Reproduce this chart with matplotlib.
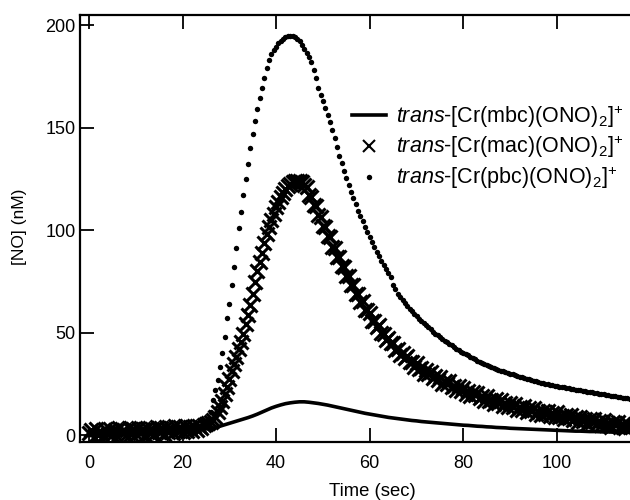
import numpy as np
import matplotlib
matplotlib.use("Agg")
import matplotlib.pyplot as plt

plt.rcParams['font.family'] = ['Liberation Sans', 'DejaVu Sans']
plt.rcParams['mathtext.fontset'] = 'custom'
plt.rcParams['mathtext.rm'] = 'Liberation Sans'
plt.rcParams['mathtext.it'] = 'Liberation Sans:italic'

# ---------------- data ----------------
t_step_markers = 0.5   # s between marker samples
t_step_line = 1.0      # s between line samples

# trans-[Cr(pbc)(ONO)2]+ , filled dots, every 0.5 s from 0 s
no_pbc = [
    0.5, 2.2, -0.6, 2.8, 0.3, 2.1, -0.2, 2.5, 1.3, 3.0,
    0.4, 2.6, -0.1, 3.1, 0.8, 2.4, 0.2, 3.2, 1.0, 2.6,
    0.6, 3.4, 1.2, 3.0, 0.7, 3.5, 1.5, 3.1, 0.9, 3.7,
    1.6, 3.3, 1.0, 3.9, 1.8, 3.4, 1.4, 4.1, 2.0, 3.8,
    1.9, 4.3, 2.5, 4.0, 2.2, 4.5, 3.0, 4.6, 3.5, 5.2,
    6.0, 8.0, 11.0, 17.0, 22.0, 27.0, 33.0, 40.0, 48.0, 57.0,
    64.0, 73.0, 82.0, 91.0, 101.0, 109.0, 117.0, 125.0, 132.0, 140.0,
    147.0, 153.0, 159.0, 164.5, 169.5, 174.0, 179.0, 183.0, 186.0, 188.0,
    189.5, 191.0, 192.0, 193.0, 194.0, 194.5, 194.5, 194.5, 194.0, 193.0,
    192.0, 190.5, 188.5, 186.5, 184.5, 182.0, 178.0, 174.0, 169.5, 166.0,
    163.0, 159.5, 156.0, 152.5, 149.0, 145.0, 140.5, 136.0, 132.5, 129.0,
    125.5, 122.0, 118.5, 115.5, 112.5, 109.5, 107.0, 104.5, 101.5, 99.0,
    96.5, 94.0, 91.5, 89.5, 87.5, 85.0, 83.0, 81.0, 79.0, 77.0,
    73.0, 71.0, 69.0, 67.5, 66.0, 64.5, 63.0, 61.7, 60.4, 59.2,
    58.0, 56.8, 55.7, 54.6, 53.5, 52.5, 51.5, 50.5, 49.5, 48.6,
    47.7, 46.8, 46.0, 45.2, 44.5, 43.7, 43.0, 42.2, 41.5, 40.7,
    40.0, 39.4, 38.8, 38.1, 37.5, 36.9, 36.3, 35.6, 35.0, 34.5,
    34.0, 33.5, 33.0, 32.6, 32.2, 31.8, 31.4, 31.0, 30.6, 30.3,
    30.0, 29.6, 29.2, 28.9, 28.5, 28.1, 27.8, 27.4, 27.1, 26.8,
    26.5, 26.2, 25.9, 25.6, 25.3, 25.0, 24.8, 24.5, 24.3, 24.0,
    23.8, 23.6, 23.4, 23.2, 23.0, 22.8, 22.6, 22.4, 22.2, 22.0,
    21.8, 21.6, 21.4, 21.2, 21.0, 20.8, 20.6, 20.4, 20.2, 20.0,
    19.8, 19.6, 19.4, 19.2, 19.0, 18.8, 18.6, 18.5, 18.3, 18.1,
    17.9, 17.8,
]

# trans-[Cr(mac)(ONO)2]+ , x markers, every 0.5 s from 0 s
no_mac = [
    0.8, 2.5, -0.8, 2.9, 0.2, 1.6, -0.5, 2.7, 0.5, 3.0,
    0.0, 2.6, -0.6, 3.2, 0.9, 2.4, -0.2, 3.3, 0.6, 2.8,
    0.3, 3.5, 1.0, 2.9, -0.1, 3.6, 1.2, 3.1, 0.4, 3.8,
    1.4, 3.4, 0.7, 4.0, 1.6, 3.6, 1.0, 4.2, 1.8, 3.9,
    1.3, 4.4, 2.2, 4.1, 1.8, 4.6, 2.6, 4.5, 3.2, 5.0,
    5.3, 5.8, 6.5, 7.5, 9.0, 11.0, 13.5, 16.5, 20.0, 23.5,
    27.5, 31.0, 34.5, 38.0, 41.8, 45.5, 49.5, 54.0, 58.5, 63.5,
    69.0, 74.5, 80.0, 84.5, 89.0, 93.5, 98.0, 101.5, 105.0, 108.0,
    111.0, 113.5, 116.0, 118.0, 120.0, 121.5, 122.5, 123.3, 123.8, 124.0,
    123.8, 123.2, 122.0, 121.0, 117.1, 116.2, 112.1, 111.6, 107.2, 106.3,
    101.8, 101.4, 97.1, 96.6, 91.9, 91.4, 87.0, 86.8, 82.3, 82.0,
    77.6, 77.5, 73.2, 73.3, 69.0, 68.9, 64.8, 65.2, 61.0, 61.2,
    59.5, 55.6, 55.5, 52.9, 53.5, 49.6, 49.2, 46.2, 47.1, 44.7,
    45.0, 41.6, 42.0, 38.8, 40.1, 37.8, 38.6, 35.4, 35.6, 33.3,
    35.1, 32.3, 32.7, 29.9, 31.8, 29.9, 30.9, 27.6, 28.6, 26.8,
    28.1, 25.1, 26.5, 24.8, 26.4, 23.3, 24.1, 21.9, 23.7, 21.7,
    23.0, 20.2, 21.3, 18.9, 21.0, 19.3, 20.6, 17.9, 19.0, 16.8,
    18.9, 16.5, 17.1, 15.1, 17.4, 15.6, 17.3, 14.4, 15.6, 13.5,
    15.4, 13.6, 15.3, 12.4, 13.6, 12.1, 14.3, 11.1, 13.0, 11.5,
    13.0, 10.4, 11.7, 9.6, 11.9, 10.4, 11.7, 9.4, 10.6, 8.6,
    11.0, 8.7, 9.5, 7.6, 9.9, 8.1, 9.9, 7.2, 8.6, 6.5,
    8.8, 6.9, 7.7, 5.6, 7.9, 6.4, 8.0, 5.3, 6.9, 4.9,
    7.2, 5.0, 6.1, 4.1, 6.4, 4.8, 6.6, 4.0, 5.5, 3.5,
    5.9, 3.9,
]

# trans-[Cr(mbc)(ONO)2]+ , solid line, every 1 s from 0 s
no_mbc = [
    0.5, 1.0, 0.3, 1.2, 0.8, 1.4, 1.0, 1.6, 1.2, 1.8,
    1.5, 2.0, 1.7, 2.2, 1.9, 2.3, 2.1, 2.5, 2.3, 2.6,
    2.5, 2.8, 2.7, 3.0, 2.9, 3.0, 3.0, 3.6, 4.3, 5.0,
    5.7, 6.4, 7.1, 7.8, 8.5, 9.3, 10.2, 11.2, 12.2, 13.2,
    14.0, 14.7, 15.3, 15.7, 16.0, 16.2, 16.2, 16.0, 15.7, 15.4,
    15.0, 14.6, 14.1, 13.6, 13.1, 12.6, 12.1, 11.6, 11.1, 10.6,
    10.2, 9.8, 9.4, 9.0, 8.6, 8.3, 8.0, 7.7, 7.4, 7.1,
    6.9, 6.6, 6.4, 6.2, 6.0, 5.8, 5.6, 5.4, 5.2, 5.0,
    4.8, 4.7, 4.5, 4.3, 4.2, 4.0, 3.9, 3.7, 3.6, 3.5,
    3.3, 3.2, 3.1, 3.0, 2.9, 2.8, 2.7, 2.6, 2.5, 2.4,
    2.3, 2.2, 2.1, 2.0, 1.9, 1.9, 1.8, 1.7, 1.7, 1.6,
    1.5, 1.5, 1.4, 1.4, 1.3, 1.3,
]

labels = [
    r"$\mathit{trans}$-[Cr(mbc)(ONO)$_2$]$^{+}$",
    r"$\mathit{trans}$-[Cr(mac)(ONO)$_2$]$^{+}$",
    r"$\mathit{trans}$-[Cr(pbc)(ONO)$_2$]$^{+}$",
]
x_ticks = [0, 20, 40, 60, 80, 100]
y_ticks = [0, 50, 100, 150, 200]
x_label = "Time (sec)"
y_label = "[NO] (nM)"

t_pbc = t_step_markers * np.arange(len(no_pbc))
t_mac = t_step_markers * np.arange(len(no_mac))
t_mbc = t_step_line * np.arange(len(no_mbc))

# ---------------- figure ----------------
W, H = 630, 500
fig = plt.figure(figsize=(W / 100, H / 100), dpi=100)
ax = fig.add_axes([80 / W, 1 - 442 / H, 550 / W, 427 / H])

ax.plot(t_mbc, no_mbc, '-', color='black', lw=2.6, label=labels[0],
        zorder=3)
ax.plot(t_mac, no_mac, 'x', color='black', ms=10, mew=2.2,
        label=labels[1], zorder=2)
ax.plot(t_pbc, no_pbc, 'o', color='black', ms=3.9, mew=0,
        label=labels[2], zorder=2)

ax.set_xlim(-1.9, 115.6)
ax.set_ylim(-3.4, 204.9)
ax.set_xticks(x_ticks)
ax.set_yticks(y_ticks)
ax.spines['right'].set_visible(False)
for s in ['left', 'bottom', 'top']:
    ax.spines[s].set_linewidth(1.6)
ax.tick_params(axis='both', direction='in', length=10, width=1.3,
               labelsize=13, colors='black')
ax.tick_params(axis='x', top=True, pad=9)
ax.tick_params(axis='y', right=False, pad=3)

fig.text(372 / W, 1 - 492 / H, x_label, ha='center', va='center', fontsize=13.3)
fig.text(20 / W, 1 - 227 / H, y_label, ha='center', va='center',
         rotation=90, fontsize=12.5)

leg = ax.legend(loc='upper left', bbox_to_anchor=(352 / W, 1 - 103 / H),
                bbox_transform=fig.transFigure, frameon=False, fontsize=15.5,
                handlelength=1.6, handletextpad=0.45, labelspacing=0.2,
                borderpad=0, borderaxespad=0)
for h in leg.legend_handles:
    if h.get_marker() == 'x':
        h.set_markeredgewidth(1.5)
        h.set_markersize(9)

fig.savefig("out.png", dpi=100)
